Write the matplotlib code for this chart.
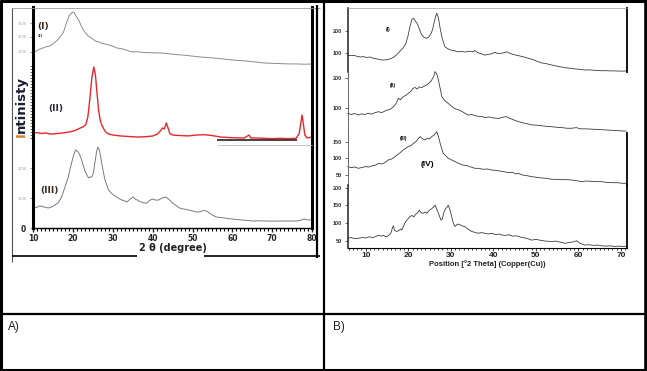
import matplotlib
matplotlib.use("Agg")
import matplotlib.pyplot as plt
from matplotlib.lines import Line2D
from matplotlib import font_manager
import numpy as np

# ---------------- data: panel A (2 theta, intensity) ----------------
a1_x = [10, 10.8, 11.6, 12.4, 13.2, 14, 14.8, 15.5, 16.2, 16.9, 17.6, 18, 18.4, 18.8, 19.1, 19.5, 19.9,
        20.3, 20.8, 21.4, 22, 22.6, 23.1, 23.8, 24.6, 25.6, 26.5, 27.3, 28.2, 29, 30, 31, 32, 33, 34, 35,
        36, 37, 38, 40, 42, 44, 46, 48, 50, 52, 54, 56, 58, 60, 62, 64, 66, 68, 70, 72, 74, 76, 78, 80]
a1_y = [5867, 5900, 5960, 6000, 6040, 6060, 6120, 6200, 6280, 6400, 6533, 6700, 6867, 7000, 7100, 7150, 7200,
        7180, 7050, 6933, 6750, 6600, 6500, 6400, 6330, 6233, 6200, 6150, 6130, 6100, 6060, 6000, 5980, 5950,
        5900, 5867, 5880, 5860, 5850, 5840, 5833, 5810, 5780, 5760, 5730, 5700, 5680, 5660, 5630, 5600, 5580,
        5560, 5530, 5500, 5490, 5480, 5470, 5470, 5460, 5467]

a2_x = [10, 11, 12, 13, 14, 15, 16, 17, 18, 19, 20, 21, 21.8, 22.6, 23.2, 23.7, 24.2, 24.7, 25.2, 25.6, 26,
        26.4, 26.8, 27.2, 27.7, 28.2, 29, 30, 32, 34, 36, 38, 40, 41.2, 42, 42.4, 42.9, 43.4, 43.8, 44.3, 45,
        47, 49, 51, 53, 55, 57, 60, 63, 64.2, 64.6, 66, 68, 70, 72, 74, 76, 76.8, 77.2, 77.5, 77.8, 78.2,
        78.8, 80]
a2_y = [3167, 3180, 3150, 3170, 3140, 3133, 3150, 3160, 3180, 3200, 3230, 3280, 3333, 3380, 3450, 3700, 4300,
        5000, 5367, 5100, 4500, 3933, 3600, 3433, 3300, 3200, 3130, 3100, 3067, 3050, 3033, 3040, 3067, 3133,
        3250, 3333, 3300, 3500, 3350, 3150, 3100, 3080, 3070, 3100, 3110, 3080, 3033, 3010, 3000, 3100, 3000,
        3000, 2990, 2980, 2990, 2980, 2990, 3150, 3500, 3767, 3500, 3100, 3000, 3033]

a3_x = [10, 10.8, 11.5, 12.2, 13, 13.8, 14.6, 15.5, 16.3, 17.1, 17.8, 18.4, 18.8, 19.3, 19.8, 20.2, 20.6, 21,
        21.3, 21.9, 22.4, 22.9, 23.4, 23.9, 24.3, 24.7, 25.1, 25.5, 25.9, 26.2, 26.6, 27, 27.4, 28, 28.5, 28.9,
        29.7, 30.5, 31.3, 32.2, 33, 33.5, 34.3, 35.1, 35.7, 36.2, 36.7, 37.2, 37.9, 38.5, 39.2, 40, 40.7,
        41.5, 42.2, 43.3, 44, 45, 45.8, 46.7, 47.5, 48.3, 49, 50, 50.8, 51.7, 52.6, 53.5, 54.5, 55.9, 57, 58,
        59, 60, 62, 64, 65, 66.5, 68.6, 70, 72, 74, 76, 77, 78, 79, 80]
a3_y = [700, 680, 733, 720, 690, 667, 700, 767, 850, 1033, 1300, 1550, 1700, 2000, 2267, 2450, 2600, 2560,
        2533, 2367, 2150, 1933, 1780, 1667, 1700, 1700, 1833, 2200, 2550, 2700, 2600, 2300, 2000, 1600, 1420,
        1267, 1150, 1067, 1000, 933, 900, 867, 960, 1033, 950, 933, 880, 867, 830, 833, 920, 967, 930, 933,
        990, 1033, 960, 833, 760, 667, 640, 620, 600, 570, 540, 533, 580, 567, 470, 367, 350, 333, 310, 300,
        270, 250, 233, 240, 233, 230, 233, 235, 233, 250, 300, 270, 267]

a_xticks = [10, 20, 30, 40, 50, 60, 70, 80]
a_yticks = [0, 1000, 2000, 5867, 6367, 6833]
a_yticklabels = ["0", "1000", "2000", "1000", "2000", "3000"]

# ---------------- data: panel B (position 2 theta, counts) ----------------
b1_x = [5.8, 6.5, 7.2, 8, 8.8, 9.5, 10.2, 11, 11.8, 12.5, 13.3, 14, 14.8, 15.5, 16.1, 16.8, 17.5, 18.2, 18.8,
        19.4, 19.9, 20.4, 20.9, 21.3, 21.7, 22.1, 22.6, 23.1, 23.6, 24.2, 24.7, 25.2, 25.7, 26.2, 26.7, 27.1,
        27.5, 28, 28.6, 29.3, 30, 30.8, 31.6, 32.5, 33.4, 34.3, 35.2, 35.7, 36.3, 37.2, 38, 38.8, 39.6, 40.4,
        41, 41.8, 42.5, 43.1, 43.8, 44.6, 45.5, 46.4, 47.4, 48.3, 49.3, 50.3, 51.3, 52.3, 53.3, 54.4, 55.5,
        56.8, 58, 59.3, 60.4, 61.5, 62.5, 63.5, 64.5, 65.4, 66.5, 67.5, 68.5, 69.5, 70.5, 71.2]
b1_y = [89, 86, 88, 83, 80, 82, 78, 80, 74, 72, 68, 66, 67, 70, 74, 82, 95, 110, 122, 140, 174, 220, 255, 258,
        245, 235, 210, 185, 172, 166, 170, 182, 205, 250, 282, 260, 212, 165, 128, 118, 112, 110, 104, 106,
        103, 107, 104, 110, 100, 95, 89, 92, 95, 102, 96, 97, 100, 104, 98, 92, 88, 84, 79, 74, 68, 60, 53,
        50, 45, 40, 36, 31, 28, 25, 23, 20, 21, 19, 18, 17, 17, 16, 16, 15, 15, 16]

b2_x = [5.8, 6.6, 7.4, 8.3, 9, 9.8, 10.6, 11.4, 12.2, 13, 13.8, 14.6, 15.3, 15.9, 16.5, 17.1, 17.7, 18.2,
        18.8, 19.4, 20, 20.6, 21.1, 21.6, 22.1, 22.6, 23.2, 23.7, 24.3, 24.9, 25.5, 26, 26.3, 26.7, 27.1, 27.5,
        27.9, 28.6, 29.4, 30.1, 30.8, 31.8, 32.6, 33.3, 34.1, 35, 35.7, 36.5, 37.3, 38.2, 39, 39.8, 40.5, 41.2,
        42, 42.6, 43.1, 43.7, 44.5, 45.2, 45.9, 46.8, 47.8, 49, 50.2, 51.4, 52.6, 53.7, 55, 56.2, 57.3, 58.4,
        59.5, 60.5, 61.8, 63.1, 64.5, 65.8, 67, 68.2, 69.4, 70.5, 71.2]
b2_y = [84, 80, 83, 78, 82, 80, 84, 81, 86, 89, 86, 92, 95, 98, 105, 115, 133, 128, 138, 142, 149, 155, 165,
        168, 163, 170, 168, 172, 176, 182, 192, 205, 220, 212, 192, 165, 138, 125, 116, 108, 100, 95, 90, 84,
        78, 80, 76, 74, 73, 70, 72, 69, 68, 67, 70, 72, 73, 68, 64, 60, 57, 53, 50, 46, 45, 43, 41, 40, 38,
        37, 35, 35, 37, 33, 33, 32, 31, 30, 29, 28, 27, 26, 26]

b3_x = [5.8, 6.6, 7.4, 8.3, 9.2, 10, 10.8, 11.6, 12.4, 13, 13.8, 14.6, 15.3, 16.1, 16.9, 17.6, 18.2, 18.8,
        19.4, 20, 20.6, 21.2, 21.8, 22.3, 22.8, 23.4, 23.9, 24.5, 25, 25.5, 26.1, 26.7, 27.1, 27.5, 27.9,
        28.2, 28.8, 29.4, 30.2, 31, 31.8, 32.8, 33.8, 34.7, 35.7, 36.6, 37.6, 38.6, 39.6, 40.5, 41.5, 42.5,
        43.5, 44.5, 45.3, 45.9, 46.8, 47.9, 49, 50.2, 51.4, 52.6, 53.7, 55, 56.2, 57.4, 58.4, 59.5, 60.7,
        61.8, 63, 64.2, 65.4, 66.6, 67.8, 69, 70.5, 71.2]
b3_y = [75, 72, 74, 70, 73, 75, 74, 78, 80, 85, 83, 88, 95, 98, 105, 112, 118, 125, 130, 135, 138, 145, 150,
        158, 165, 158, 155, 160, 158, 165, 170, 180, 165, 145, 128, 115, 108, 100, 95, 90, 85, 80, 78, 74,
        70, 70, 67, 68, 65, 64, 62, 60, 57, 58, 53, 55, 50, 48, 45, 43, 41, 40, 37, 37, 36, 36, 35, 33, 30,
        32, 31, 30, 30, 28, 27, 27, 25, 25]

b4_x = [5.8, 6.6, 7.4, 8.3, 9.2, 10, 10.8, 11.6, 12.4, 13, 13.6, 14.2, 14.8, 15.4, 15.9, 16.3, 16.5, 16.8,
        17.3, 17.8, 18.2, 18.5, 19, 19.4, 19.9, 20.4, 20.9, 21.3, 21.7, 22.1, 22.6, 23, 23.5, 24, 24.4, 24.9,
        25.4, 25.9, 26.3, 26.7, 27.1, 27.4, 27.7, 28, 28.3, 28.7, 29.1, 29.4, 29.8, 30.2, 30.6, 31, 31.4,
        31.8, 32.3, 32.8, 33.3, 33.9, 34.5, 34.9, 35.6, 36.4, 37.2, 38, 38.8, 39.7, 40.6, 41.4, 42, 42.8,
        43.6, 44.5, 45.4, 45.9, 46.8, 47.8, 49, 50.1, 51.2, 52.4, 53.7, 54.8, 55.8, 56.8, 57.8, 58.8, 59.6,
        60.2, 61.5, 62.5, 63.5, 64.5, 65.4, 66.5, 67.5, 68.5, 69.5, 70.5, 71.2]
b4_y = [58, 60, 57, 58, 60, 59, 62, 60, 63, 67, 64, 66, 62, 66, 72, 88, 93, 80, 77, 80, 84, 81, 95, 105, 112,
        119, 122, 118, 125, 128, 137, 130, 128, 132, 128, 136, 140, 145, 151, 140, 128, 118, 109, 112, 128,
        140, 145, 151, 138, 119, 100, 91, 96, 98, 95, 92, 91, 85, 80, 77, 75, 72, 74, 72, 70, 72, 68, 70, 67,
        66, 68, 64, 65, 63, 60, 58, 53, 55, 52, 50, 49, 50, 47, 44, 46, 48, 51, 45, 39, 40, 38, 39, 37, 36,
        37, 35, 36, 35, 36]

b_xticks = [10, 20, 30, 40, 50, 60, 70]
b_labels = ["(I)", "(II)", "(III)", "(IV)"]

# ---------------- figure ----------------
W, H = 647, 371
fig = plt.figure(figsize=(W / 100, H / 100), dpi=100)
fig.patch.set_facecolor("white")

names = {f.name for f in font_manager.fontManager.ttflist}
NARROW = "Liberation Sans Narrow" if "Liberation Sans Narrow" in names else "Liberation Sans"


def box(x0, y0, x1, y1):
    return [x0 / W, 1 - y1 / H, (x1 - x0) / W, (y1 - y0) / H]


def fline(x0, y0, x1, y1, lw=2.0, color="black"):
    fig.add_artist(Line2D([x0 / W, x1 / W], [1 - y0 / H, 1 - y1 / H], transform=fig.transFigure,
                          lw=lw, color=color, solid_capstyle="butt"))


def ftext(x, y, s, **kw):
    fig.text(x / W, 1 - y / H, s, **kw)


# ---- table grid ----
fline(0, 1.2, 647, 1.2, lw=2.2)
fline(0, 369.5, 647, 369.5, lw=2.2)
fline(1.2, 0, 1.2, 371, lw=2.2)
fline(645.5, 0, 645.5, 371, lw=2.6)
fline(324.3, 0, 324.3, 371, lw=1.6)
fline(0, 314, 647, 314, lw=1.6)
ftext(8, 327, "A)", fontsize=8.5, family="Liberation Sans", va="center", ha="left", color="#222222")
ftext(333, 327, "B)", fontsize=8.5, family="Liberation Sans", va="center", ha="left", color="#222222")

# ---- panel A decorations (scanned frame) ----
fline(12, 7.5, 320, 7.5, lw=0.6, color="#9a9a9a")
fline(12, 7.5, 12, 262, lw=0.8, color="#555555")
fline(12, 256, 137, 256, lw=1.2)
fline(204, 256, 320, 256, lw=1.2)
fline(317, 5, 317, 258, lw=1.6)
fline(217, 140, 297, 140, lw=1.2, color="#222222")
fline(217, 145, 312, 145, lw=0.6, color="#bbbbbb")

# ---- panel A axes ----
axA = fig.add_axes(box(33.3, 7, 312, 228))
axA.set_xlim(10, 80)
axA.set_ylim(0, 7367)
axA.plot(a1_x, a1_y, color="#8c8c8c", lw=0.7)
axA.plot(a2_x, a2_y, color="#e8272b", lw=1.0)
axA.plot(a3_x, a3_y, color="#7a7a7a", lw=0.7)
axA.spines["top"].set_visible(False)
axA.spines["left"].set_linewidth(2.2)
axA.spines["right"].set_linewidth(2.2)
axA.spines["bottom"].set_linewidth(1.0)
axA.set_xticks(a_xticks)
axA.set_xticks(np.arange(10, 81, 1), minor=True)
axA.tick_params(axis="x", which="major", length=3, width=1, pad=1.5, labelsize=5.5, colors="#222222")
axA.tick_params(axis="x", which="minor", length=2, width=0.8)
for lab in axA.get_xticklabels():
    lab.set_fontweight("bold")
axA.set_yticks(a_yticks)
axA.set_yticklabels(a_yticklabels)
axA.set_yticks(np.arange(3000, 5500, 100), minor=True)
axA.tick_params(axis="y", which="major", length=2, width=0.6, pad=3, color="#888888")
axA.tick_params(axis="y", which="minor", length=2, width=0.6, color="#555555")
for lab in axA.get_yticklabels():
    if lab.get_text() == "0":
        lab.set_fontsize(5.5)
        lab.set_fontweight("bold")
        lab.set_color("#222222")
    else:
        lab.set_fontsize(2.5)
        lab.set_color("#999999")
axA.set_xlabel("2 θ (degree)", fontsize=7, fontweight="bold", labelpad=0, color="#222222")

ftext(43, 26, "(I)", fontsize=6.5, fontweight="bold", ha="center", va="center", color="#3a2a1c")
ftext(40, 36, "(I)", fontsize=3, fontweight="bold", ha="center", va="center", color="#333333")
ftext(56, 108, "(II)", fontsize=6.5, fontweight="bold", ha="center", va="center", color="#2a2a3a")
ftext(49, 190, "(III)", fontsize=6.5, fontweight="bold", ha="center", va="center", color="#3a2a1c")
ftext(21, 137, "I", fontsize=9.5, fontweight="bold", rotation=90, ha="center", va="bottom", color="#d0802a")
ftext(21, 132.5, "ntinisty", fontsize=9.5, fontweight="bold", rotation=90, ha="center", va="bottom",
      color="#1c1c34")

# ---- panel B axes ----
xl = (5.77, 71.34)
b_specs = [
    (b1_x, b1_y, (8, 71.7), (12.3, 306), [100, 200]),
    (b2_x, b2_y, (71.7, 133.3), (18.5, 219.6), [100, 200]),
    (b3_x, b3_y, (133.3, 185), (20, 175), [50, 100, 150]),
    (b4_x, b4_y, (185, 248.3), (29.9, 207.5), [50, 100, 150, 200]),
]
for i, (xs, ys, (t, b), yl, yt) in enumerate(b_specs):
    ax = fig.add_axes(box(347.7, t, 626.7, b))
    ax.patch.set_alpha(0)
    ax.set_xlim(*xl)
    ax.set_ylim(*yl)
    ax.plot(xs, ys, color="#3c3c3c", lw=0.6, clip_on=False)
    ax.set_yticks(yt)
    ax.set_yticklabels([str(v) for v in yt])
    ax.tick_params(axis="y", length=2, width=0.5, pad=2, labelsize=4, colors="#333333")
    for lab in ax.get_yticklabels():
        lab.set_fontweight("bold")
        lab.set_family(NARROW)
    for s in ["top", "bottom", "left", "right"]:
        ax.spines[s].set_visible(False)
    ax.spines["left"].set_visible(True)
    ax.spines["left"].set_linewidth(1.1 if i in (0, 3) else 0.7)
    ax.spines["left"].set_color("#222222" if i in (0, 3) else "#666666")
    if i in (0, 2, 3):
        ax.spines["right"].set_visible(True)
        ax.spines["right"].set_linewidth(1.3)
    if i == 0:
        ax.spines["top"].set_visible(True)
        ax.spines["top"].set_linewidth(0.5)
        ax.spines["top"].set_color("#999999")
    if i == 3:
        ax.spines["bottom"].set_visible(True)
        ax.spines["bottom"].set_linewidth(0.8)
        ax.set_xticks(b_xticks)
        ax.set_xticks(np.arange(6, 72, 1), minor=True)
        ax.tick_params(axis="x", which="major", length=2.5, width=0.6, pad=0.5, labelsize=6, colors="#222222")
        ax.tick_params(axis="x", which="minor", length=1.5, width=0.5)
        for lab in ax.get_xticklabels():
            lab.set_fontweight("bold")
            lab.set_family(NARROW)
        ax.set_xlabel("Position [°2 Theta] (Copper(Cu))", fontsize=5.5, fontweight="bold",
                      family=NARROW, labelpad=0.5, color="#222222")
    else:
        ax.set_xticks([])

ftext(388, 29, b_labels[0], fontsize=3.5, fontweight="bold", ha="center", va="center", family=NARROW)
ftext(393, 86, b_labels[1], fontsize=3.5, fontweight="bold", ha="center", va="center", family=NARROW)
ftext(403, 138, b_labels[2], fontsize=3.5, fontweight="bold", ha="center", va="center", family=NARROW)
ftext(427, 165, b_labels[3], fontsize=6, fontweight="bold", ha="center", va="center", family=NARROW)

fig.savefig("out.png", dpi=100)
